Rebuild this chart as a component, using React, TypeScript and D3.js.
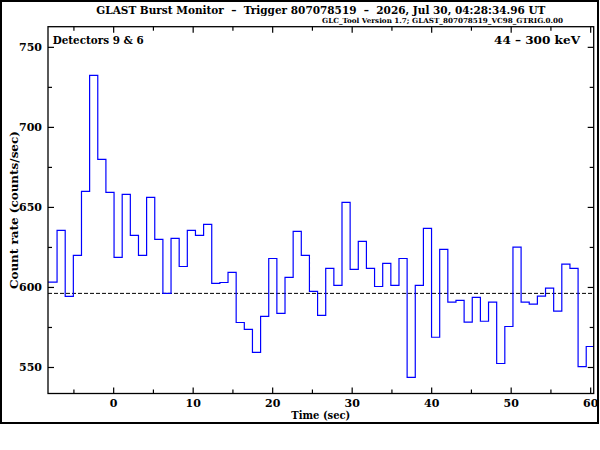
import React, { useEffect, useRef } from 'react';
import * as d3 from 'd3';

// Light curve: count rate per 1.024 s bin
const binWidth = 1.024;
const firstBinStart = -9.168;
const countRates = [
  603.3, 603.3, 635.6, 594.4, 620, 660, 732.5, 680, 659.4, 618.8, 658.1,
  632.5, 620, 656.3, 630, 596.3, 630.6, 613.1, 635.6, 632.5, 639.4,
  602.5, 603.1, 609.4, 578.1, 573.8, 559.4, 581.9, 618.1, 583.8, 606.3,
  635, 620, 597.5, 582.5, 611.9, 601.3, 653.1, 611.3, 628.8, 611.9,
  600.6, 615, 601.3, 618.1, 543.8, 601.3, 636.9, 568.9, 623.8, 590.8,
  591.9, 578.3, 593.8, 578.9, 590.8, 552.5, 575.6, 625.2, 590.8, 589.6,
  594.6, 599.6, 585.2, 614.6, 611.9, 550.6, 563.1,
];
const background = 596.3;

const xDomain: [number, number] = [-8.26, 60.38];
const yDomain: [number, number] = [533.75, 762.9];
const xMajorTicks = [0, 10, 20, 30, 40, 50, 60];
const xMinorTicks = [-5, 5, 15, 25, 35, 45, 55];
const yMajorTicks = [550, 600, 650, 700, 750];
const yMinorTicks = [575, 625, 675, 725];

const title = 'GLAST Burst Monitor \u00a0\u2013\u00a0 Trigger 807078519 \u00a0\u2013\u00a0 2026, Jul 30, 04:28:34.96 UT';
const subtitle = 'GLC_Tool Version 1.7; GLAST_807078519_VC98_GTRIG.0.00';
const detectorLabel = 'Detectors 9 & 6';
const energyLabel = '44 \u2013 300 keV';

const FONT = '"DejaVu Serif", "Liberation Serif", serif';

export default function App() {
  const svgRef = useRef<SVGSVGElement>(null);
  const width = 600;
  const height = 450;

  useEffect(() => {
    const svg = d3.select(svgRef.current);
    svg.selectAll('*').remove();

    const left = 48, right = 593.7, top = 26.7, bottom = 393.5;

    const x = d3.scaleLinear().domain(xDomain).range([left, right]);
    const y = d3.scaleLinear().domain(yDomain).range([bottom, top]);

    svg.append('rect').attr('width', width).attr('height', height).attr('fill', 'white');

    // outer frame
    svg.append('rect')
      .attr('x', 1).attr('y', 1)
      .attr('width', 597).attr('height', 422)
      .attr('fill', 'none').attr('stroke', 'black').attr('stroke-width', 2);

    svg.append('clipPath').attr('id', 'plot-clip')
      .append('rect')
      .attr('x', left).attr('y', top)
      .attr('width', right - left).attr('height', bottom - top);

    // background level
    svg.append('line')
      .attr('x1', left).attr('x2', right)
      .attr('y1', y(background)).attr('y2', y(background))
      .attr('stroke', 'black').attr('stroke-width', 1)
      .attr('stroke-dasharray', '4,2');

    // histogram
    const pts: [number, number][] = countRates.map((v, i) => [firstBinStart + i * binWidth, v]);
    pts.push([firstBinStart + countRates.length * binWidth, countRates[countRates.length - 1]]);
    const line = d3.line<[number, number]>()
      .x(d => x(d[0]))
      .y(d => y(d[1]))
      .curve(d3.curveStepAfter);
    svg.append('path')
      .attr('d', line(pts))
      .attr('clip-path', 'url(#plot-clip)')
      .attr('fill', 'none')
      .attr('stroke', '#0000ff')
      .attr('stroke-width', 1.2);

    // plot box
    svg.append('rect')
      .attr('x', left).attr('y', top)
      .attr('width', right - left).attr('height', bottom - top)
      .attr('fill', 'none').attr('stroke', 'black').attr('stroke-width', 1.3);

    // ticks on all four sides, pointing inward
    const ticks = svg.append('g').attr('stroke', 'black').attr('stroke-width', 1.2);
    const addX = (vals: number[], len: number) => {
      vals.forEach(v => {
        ticks.append('line').attr('x1', x(v)).attr('x2', x(v)).attr('y1', bottom).attr('y2', bottom - len);
        ticks.append('line').attr('x1', x(v)).attr('x2', x(v)).attr('y1', top).attr('y2', top + len);
      });
    };
    const addY = (vals: number[], len: number) => {
      vals.forEach(v => {
        ticks.append('line').attr('x1', left).attr('x2', left + len).attr('y1', y(v)).attr('y2', y(v));
        ticks.append('line').attr('x1', right).attr('x2', right - len).attr('y1', y(v)).attr('y2', y(v));
      });
    };
    addX(xMajorTicks, 6);
    addX(xMinorTicks, 4);
    addY(yMajorTicks, 6);
    addY(yMinorTicks, 4);

    const text = svg.append('g')
      .attr('font-family', FONT)
      .attr('font-weight', 'bold')
      .attr('fill', 'black');

    text.selectAll('.xtick')
      .data(xMajorTicks)
      .enter()
      .append('text')
      .attr('x', d => x(d))
      .attr('y', 407)
      .attr('text-anchor', 'middle')
      .attr('font-size', 11)
      .text(d => d);

    text.selectAll('.ytick')
      .data(yMajorTicks)
      .enter()
      .append('text')
      .attr('x', 42)
      .attr('y', d => y(d) + 4)
      .attr('text-anchor', 'end')
      .attr('font-size', 11)
      .text(d => d);

    text.append('text')
      .attr('x', (left + right) / 2).attr('y', 13.5)
      .attr('text-anchor', 'middle')
      .attr('font-size', 11.5)
      .attr('textLength', 449).attr('lengthAdjust', 'spacingAndGlyphs')
      .text(title);

    text.append('text')
      .attr('x', 322).attr('y', 22.5)
      .attr('font-size', 7)
      .attr('textLength', 241).attr('lengthAdjust', 'spacingAndGlyphs')
      .text(subtitle);

    text.append('text')
      .attr('x', 52.7).attr('y', 44)
      .attr('font-size', 11)
      .attr('textLength', 91).attr('lengthAdjust', 'spacingAndGlyphs')
      .text(detectorLabel);

    text.append('text')
      .attr('x', 494).attr('y', 44)
      .attr('font-size', 11)
      .attr('textLength', 86).attr('lengthAdjust', 'spacingAndGlyphs')
      .text(energyLabel);

    text.append('text')
      .attr('x', (left + right) / 2).attr('y', 419)
      .attr('text-anchor', 'middle')
      .attr('font-size', 11)
      .attr('textLength', 59).attr('lengthAdjust', 'spacingAndGlyphs')
      .text('Time (sec)');

    text.append('text')
      .attr('transform', `translate(18,${(top + bottom) / 2}) rotate(-90)`)
      .attr('text-anchor', 'middle')
      .attr('font-size', 11)
      .attr('textLength', 158).attr('lengthAdjust', 'spacingAndGlyphs')
      .text('Count rate (counts/sec)');
  }, []);

  return (
    <svg
      ref={svgRef}
      width={width}
      height={height}
      style={{ position: 'absolute', left: 0, top: 0, display: 'block' }}
    />
  );
}
